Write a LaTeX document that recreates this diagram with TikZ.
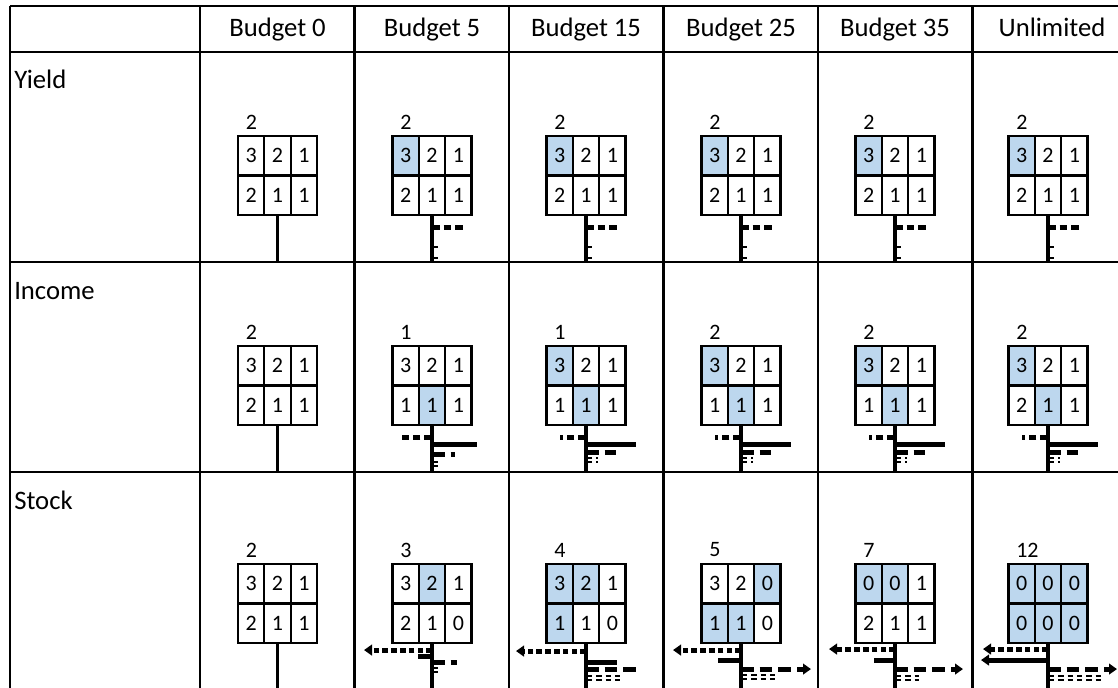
\documentclass[tikz,border=0pt]{standalone}
\usepackage{fontspec}
\setmainfont{Carlito}
\usetikzlibrary{arrows.meta,calc}
\definecolor{hl}{RGB}{189,215,238}
\colorlet{nohl}{white}
\newcommand\drawgrid[5]{%
  \foreach \v/\c [count=\i from 0] in {#5}{%
    \pgfmathtruncatemacro\cc{mod(\i,3)}%
    \pgfmathtruncatemacro\rr{floor(\i/3)}%
    \node[cellbox, fill=\c] (#1-\i) at ({#2-26.33+26.33*\cc},{#3+19.75+39.5*\rr}) {\v};
  }%
  \node[num, anchor=west] (#1-lab) at ({#2-32},{#3-14}) {#4};
}
\newcommand\stemline[2]{\draw[stem] (#1-4.south) -- ++(0,#2);}
\newcommand\mybar[4]{\draw[#1] ($(#2-4.south)+(0,#3)$) -- ++(#4,0);}
\newcommand\mythin[3]{%
  \draw[thinbar] ($(#1-4.south)+(1,#2)$) -- ++(#3,0);
  \draw[thinbar] ($(#1-4.south)+(1,#2+4)$) -- ++(#3,0);}
\begin{document}
\begin{tikzpicture}[x=0.75pt,y=-0.75pt,
  tab/.style={line width=2.2pt},
  hdr/.style={font=\fontsize{20}{24}\selectfont, inner sep=0pt},
  num/.style={font=\fontsize{16.5}{20}\selectfont, inner sep=0pt},
  cellbox/.style={draw, line width=1.6pt, minimum width=19.75pt, minimum height=29.6pt, inner sep=0pt, font=\fontsize{16.5}{20}\selectfont},
  stem/.style={line width=2.6pt},
  solidbar/.style={line width=3.8pt},
  dotbar/.style={line width=3.8pt, dash pattern=on 4.2pt off 2.4pt},
  bigdot/.style={line width=3.8pt, dash pattern=on 5.8pt off 3pt},
  dashbar/.style={line width=3.8pt, dash pattern=on 9.5pt off 4.5pt},
  thinbar/.style={line width=0.9pt, dash pattern=on 4pt off 3pt},
  tip/.style={-{Triangle[length=6pt,width=8pt]}}]
\useasboundingbox (0,0) rectangle (1118,687);
\fill[white] (0,0) rectangle (1118,687);
\clip (0,0) rectangle (1118,687);
% table rules
\foreach \yy in {6,52,262,472} \draw[tab] (10,\yy) -- (1130,\yy);
\foreach \xx in {10,200,354.5,509,663.5,818,972.5} \draw[tab] (\xx,6) -- (\xx,700);
% headers
\node[hdr, anchor=base] (h0) at (277.5,36) {Budget 0};
\node[hdr, anchor=base] (h5) at (432,36) {Budget 5};
\node[hdr, anchor=base] (h15) at (586,36) {Budget 15};
\node[hdr, anchor=base] (h25) at (741,36) {Budget 25};
\node[hdr, anchor=base] (h35) at (895,36) {Budget 35};
\node[hdr, anchor=base] (hU) at (1052,36) {Unlimited};
\node[hdr, anchor=base west] (ry) at (14,88) {Yield};
\node[hdr, anchor=base west] (ri) at (14,299) {Income};
\node[hdr, anchor=base west] (rs) at (14,509) {Stock};
% ---------------- Yield ----------------
\drawgrid{y0}{277.5}{136}{2}{3/nohl,2/nohl,1/nohl,2/nohl,1/nohl,1/nohl}
\drawgrid{y5}{432}{136}{2}{3/hl,2/nohl,1/nohl,2/nohl,1/nohl,1/nohl}
\drawgrid{y15}{586}{136}{2}{3/hl,2/nohl,1/nohl,2/nohl,1/nohl,1/nohl}
\drawgrid{y25}{741}{136}{2}{3/hl,2/nohl,1/nohl,2/nohl,1/nohl,1/nohl}
\drawgrid{y35}{895}{136}{2}{3/hl,2/nohl,1/nohl,2/nohl,1/nohl,1/nohl}
\drawgrid{yU}{1048}{136}{2}{3/hl,2/nohl,1/nohl,2/nohl,1/nohl,1/nohl}
\stemline{y0}{47}
\foreach \n in {y5,y15,y25,y35,yU}{
  \stemline{\n}{47}
  \mybar{bigdot}{\n}{11}{32}
  \draw[thinbar] ($(\n-4.south)+(1,31)$) -- ++(7,0);
  \draw[thinbar] ($(\n-4.south)+(1,42)$) -- ++(7,0);
}
% ---------------- Income ----------------
\drawgrid{i0}{277.5}{346}{2}{3/nohl,2/nohl,1/nohl,2/nohl,1/nohl,1/nohl}
\drawgrid{i5}{432}{346}{1}{3/nohl,2/nohl,1/nohl,1/nohl,1/hl,1/nohl}
\drawgrid{i15}{586}{346}{1}{3/hl,2/nohl,1/nohl,1/nohl,1/hl,1/nohl}
\drawgrid{i25}{741}{346}{2}{3/hl,2/nohl,1/nohl,1/nohl,1/hl,1/nohl}
\drawgrid{i35}{895}{346}{2}{3/hl,2/nohl,1/nohl,1/nohl,1/hl,1/nohl}
\drawgrid{iU}{1048}{346}{2}{3/hl,2/nohl,1/nohl,2/nohl,1/hl,1/nohl}
\stemline{i0}{47}
\stemline{i5}{47}
\mybar{bigdot}{i5}{11}{-30}
\mybar{solidbar}{i5}{18}{45}
\mybar{dashbar}{i5}{28}{23}
\mythin{i5}{36}{5}
\foreach \n in {i15,i25,i35,iU}{
  \stemline{\n}{47}
  \mybar{bigdot}{\n}{11}{-26}
  \mybar{solidbar}{\n}{18}{50}
  \mybar{dashbar}{\n}{26}{30}
  \mythin{\n}{32}{11}
}
% ---------------- Stock ----------------
\drawgrid{s0}{277.5}{564}{2}{3/nohl,2/nohl,1/nohl,2/nohl,1/nohl,1/nohl}
\drawgrid{s5}{432}{564}{3}{3/nohl,2/hl,1/nohl,2/nohl,1/nohl,0/nohl}
\drawgrid{s15}{586}{564}{4}{3/hl,2/hl,1/nohl,1/hl,1/nohl,0/nohl}
\drawgrid{s25}{741}{564}{5}{3/nohl,2/nohl,0/hl,1/hl,1/hl,0/nohl}
\drawgrid{s35}{895}{564}{7}{0/hl,0/hl,1/nohl,2/nohl,1/nohl,1/nohl}
\drawgrid{sU}{1048}{564}{12}{0/hl,0/hl,0/hl,0/hl,0/hl,0/hl}
\foreach \n in {s0,s5,s15,s25,s35,sU}{\stemline{\n}{50}}
% Budget 5
\mybar{dotbar,tip}{s5}{6}{-68}
\mybar{solidbar}{s5}{12}{-14}
\mybar{dashbar}{s5}{18}{25}
\mythin{s5}{24}{8}
% Budget 15
\mybar{dotbar,tip}{s15}{7}{-70}
\mybar{solidbar}{s15}{18}{31}
\mybar{dashbar}{s15}{25}{56}
\mythin{s15}{32}{33}
% Budget 25
\mybar{dotbar,tip}{s25}{6}{-68}
\mybar{solidbar}{s25}{16}{-23}
\mybar{dashbar,tip}{s25}{25}{70}
\mythin{s25}{31}{35}
% Budget 35
\mybar{dotbar,tip}{s35}{5}{-66}
\mybar{solidbar}{s35}{16}{-21}
\mybar{dashbar,tip}{s35}{25}{68}
\mythin{s35}{32}{23}
% Unlimited
\mybar{dotbar,tip}{sU}{5}{-65}
\mybar{solidbar,tip}{sU}{16}{-67}
\mybar{dashbar,tip}{sU}{25}{69}
\mythin{sU}{32}{55}
\end{tikzpicture}
\end{document}
